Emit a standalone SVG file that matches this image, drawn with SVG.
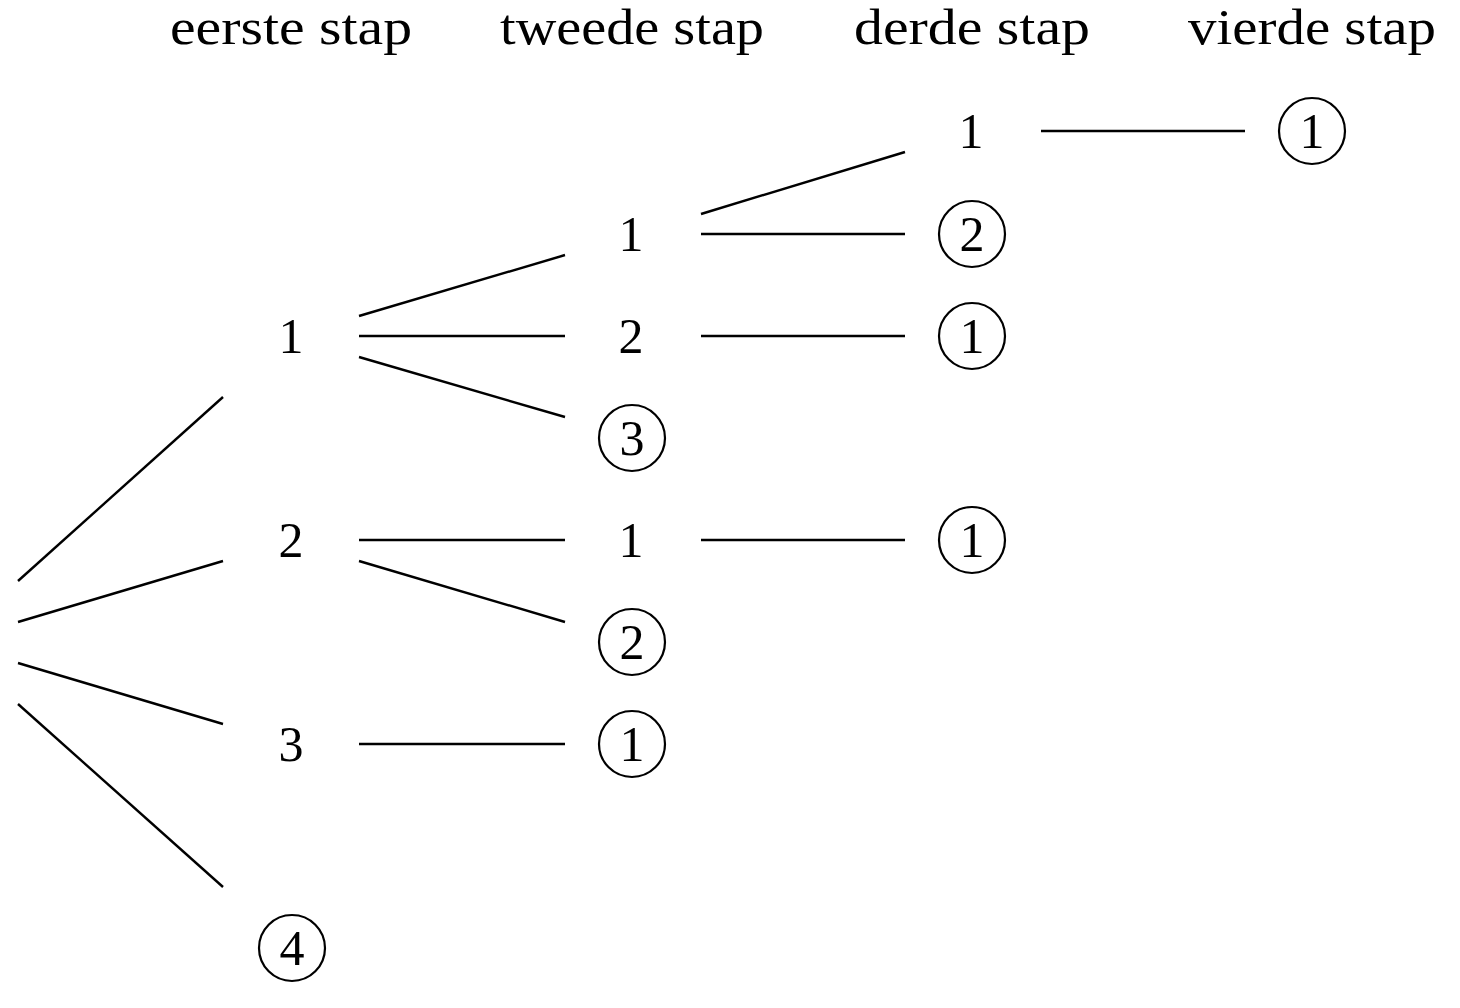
<svg xmlns="http://www.w3.org/2000/svg" width="1460" height="1008" viewBox="0 0 1460 1008">
<style>
text{font-family:"Liberation Serif","DejaVu Serif",serif;fill:#000;text-anchor:middle}
.h{font-size:50px}
.n{font-size:50px}
.c{fill:none;stroke:#000;stroke-width:2.2}
.e line{stroke:#000;stroke-width:2.4;stroke-linecap:butt}
</style>
<rect width="1460" height="1008" fill="#fff"/>
<g id="headers">
<text class="h" x="291" y="44" textLength="242" lengthAdjust="spacingAndGlyphs">eerste stap</text>
<text class="h" x="632" y="44" textLength="264" lengthAdjust="spacingAndGlyphs">tweede stap</text>
<text class="h" x="972" y="44" textLength="236" lengthAdjust="spacingAndGlyphs">derde stap</text>
<text class="h" x="1312" y="44" textLength="248" lengthAdjust="spacingAndGlyphs">vierde stap</text>
</g>
<g id="connectors" class="e">
<line x1="18" y1="581" x2="223" y2="397"/>
<line x1="18" y1="622" x2="223" y2="561"/>
<line x1="18" y1="663" x2="223" y2="724"/>
<line x1="18" y1="704" x2="223" y2="887"/>
<line x1="359" y1="316" x2="565" y2="255"/>
<line x1="359" y1="336" x2="565" y2="336"/>
<line x1="359" y1="357" x2="565" y2="417"/>
<line x1="359" y1="540" x2="565" y2="540"/>
<line x1="359" y1="561" x2="565" y2="622"/>
<line x1="359" y1="744" x2="565" y2="744"/>
<line x1="701" y1="214" x2="905" y2="152"/>
<line x1="701" y1="234" x2="905" y2="234"/>
<line x1="701" y1="336" x2="905" y2="336"/>
<line x1="701" y1="540" x2="905" y2="540"/>
<line x1="1041" y1="131" x2="1245" y2="131"/>
</g>
<g id="n1"><text class="n" x="291" y="353">1</text></g>
<g id="n2"><text class="n" x="291" y="557">2</text></g>
<g id="n3"><text class="n" x="291" y="761">3</text></g>
<g id="n4"><circle class="c" cx="292" cy="948" r="33"/><text class="n" x="292" y="965">4</text></g>
<g id="n11"><text class="n" x="631" y="251">1</text></g>
<g id="n12"><text class="n" x="631" y="353">2</text></g>
<g id="n13"><circle class="c" cx="632" cy="438" r="33"/><text class="n" x="632" y="455">3</text></g>
<g id="n21"><text class="n" x="631" y="557">1</text></g>
<g id="n22"><circle class="c" cx="632" cy="642" r="33"/><text class="n" x="632" y="659">2</text></g>
<g id="n31"><circle class="c" cx="632" cy="744" r="33"/><text class="n" x="632" y="761">1</text></g>
<g id="n111"><text class="n" x="971" y="148">1</text></g>
<g id="n112"><circle class="c" cx="972" cy="234" r="33"/><text class="n" x="972" y="251">2</text></g>
<g id="n121"><circle class="c" cx="972" cy="336" r="33"/><text class="n" x="972" y="353">1</text></g>
<g id="n211"><circle class="c" cx="972" cy="540" r="33"/><text class="n" x="972" y="557">1</text></g>
<g id="n1111"><circle class="c" cx="1312" cy="131" r="33"/><text class="n" x="1312" y="148">1</text></g>
</svg>
